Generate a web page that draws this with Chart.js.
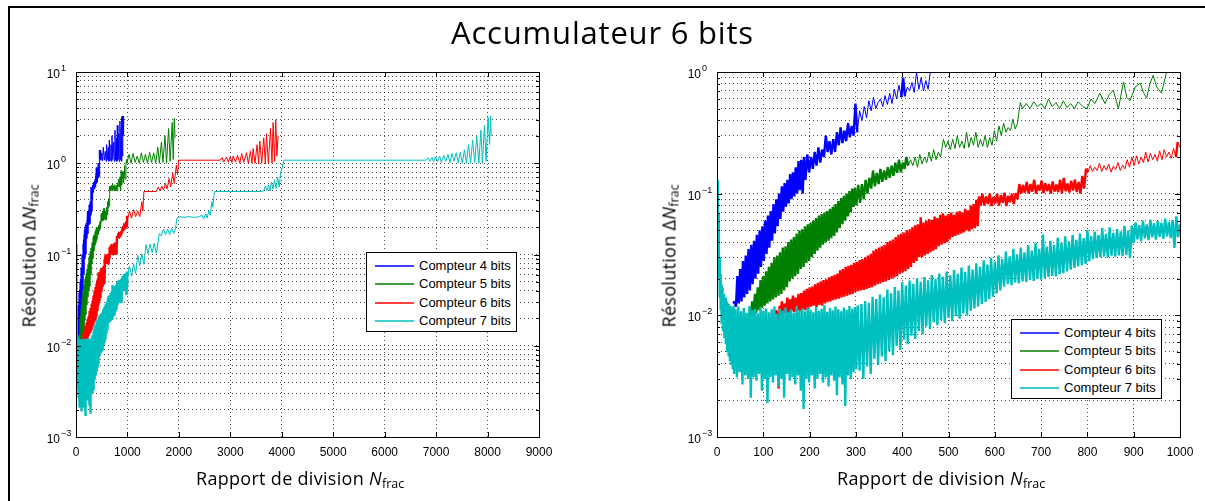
<!DOCTYPE html>
<html lang="fr">
<head>
<meta charset="utf-8">
<title>Accumulateur 6 bits</title>
<script src="https://cdn.jsdelivr.net/npm/chart.js@4.4.0/dist/chart.umd.min.js"></script>
<style>
  body { margin: 0; width: 1205px; height: 501px; background: #fff; position: relative; overflow: hidden; font-family: "Open Sans", "Noto Sans", sans-serif; color: #000; }
  #cadre { position: absolute; left: 8px; top: 6px; right: -4px; bottom: -4px; border-top: 2px solid #000; border-left: 2px solid #000; }
  canvas { position: absolute; top: 0; }
  #titre { position: absolute; left: 0; top: 16.5px; width: 1205px; text-align: center; font-size: 31px; line-height: 31px; letter-spacing: 0.8px; white-space: nowrap; }
  .xlabel, .ylabel { position: absolute; font-size: 18px; line-height: 18px; letter-spacing: 0.3px; white-space: nowrap; }
  .sub { font-size: 12.5px; vertical-align: -3px; letter-spacing: 0; }
  .legende { position: absolute; width: 149px; height: 78px; border: 1px solid #000; background: #fff; font-family: "Liberation Sans", Arial, sans-serif; font-size: 13px; }
  .legende .ligne { position: absolute; left: 8px; width: 39px; height: 2px; opacity: 0.75; }
  .legende .texte { position: absolute; left: 52px; line-height: 18px; white-space: nowrap; }
</style>
</head>
<body>
<div id="cadre"></div>
<canvas id="grapheGauche" width="600" height="501" style="left:0"></canvas>
<canvas id="grapheDroite" width="605" height="501" style="left:600px"></canvas>
<div id="titre">Accumulateur 6 bits</div>
<div class="xlabel" id="xlabelGauche">Rapport de division <i>N</i><span class="sub">frac</span></div>
<div class="xlabel" id="xlabelDroite">Rapport de division <i>N</i><span class="sub">frac</span></div>
<div class="ylabel" id="ylabelGauche">Résolution Δ<i>N</i><span class="sub">frac</span></div>
<div class="ylabel" id="ylabelDroite">Résolution Δ<i>N</i><span class="sub">frac</span></div>
<div class="legende" id="legendeGauche" style="left:366px; top:252px"></div>
<div class="legende" id="legendeDroite" style="left:1011px; top:319px"></div>
<script>
// Noms et couleurs des compteurs
const nomsCompteurs = ["Compteur 4 bits", "Compteur 5 bits", "Compteur 6 bits", "Compteur 7 bits"];
const couleurs = ["#0000ff", "#008000", "#ff0000", "#00bfbf"];

// Graduations
const xTicksGauche = [0, 1000, 2000, 3000, 4000, 5000, 6000, 7000, 8000, 9000];
const xTicksDroite = [0, 100, 200, 300, 400, 500, 600, 700, 800, 900, 1000];
const decadesGauche = [-3, -2, -1, 0, 1];
const decadesDroite = [-3, -2, -1, 0];

// Résolution [N_frac, delta N_frac]
const compteur4 = [
  [35,0.0125],[38,0.013],[41,0.0118],[44,0.021],[47,0.0125],[50,0.024],[53,0.013],[56,0.028],[59,0.014],[62,0.031],
  [65,0.015],[68,0.035],[71,0.016],[74,0.038],[77,0.018],[80,0.041],[83,0.02],[86,0.046],[89,0.022],[92,0.05],
  [95,0.025],[98,0.054],[101,0.028],[104,0.06],[107,0.032],[110,0.066],[113,0.036],[116,0.072],[119,0.041],[122,0.082],
  [125,0.047],[128,0.09],[131,0.054],[134,0.1],[137,0.062],[140,0.115],[143,0.071],[146,0.122],[149,0.078],[152,0.13],
  [155,0.083],[158,0.145],[161,0.09],[164,0.15],[167,0.095],[170,0.165],[173,0.1],[176,0.185],[179,0.107],[182,0.19],
  [185,0.1],[188,0.2],[191,0.13],[195,0.21],[199,0.15],[203,0.2],[207,0.16],[211,0.22],[215,0.17],[219,0.24],
  [223,0.18],[227,0.23],[231,0.2],[235,0.3],[239,0.22],[243,0.27],[247,0.21],[251,0.28],[255,0.22],[259,0.32],
  [263,0.25],[267,0.35],[271,0.26],[275,0.33],[279,0.27],[283,0.38],[287,0.29],[291,0.36],[295,0.3],[299,0.55],
  [303,0.32],[308,0.48],[313,0.4],[318,0.52],[323,0.42],[328,0.58],[333,0.48],[338,0.62],[343,0.5],[348,0.56],
  [353,0.6],[358,0.52],[363,0.64],[368,0.54],[373,0.67],[378,0.55],[383,0.72],[388,0.6],[393,0.78],[398,0.62],
  [402,0.9],[406,0.63],[411,0.75],[416,0.7],[421,0.82],[426,0.68],[431,1.0],[436,0.72],[441,0.9],[446,0.7],
  [451,0.85],[456,0.72],[462,1.1],[466,1.4],[485,1.08],[500,1.3],[515,1.06],[531,1.5],[550,1.08],[570,1.35],
  [585,1.05],[595,1.6],[615,1.1],[630,1.5],[640,1.05],[647,1.8],[665,1.08],[680,1.6],[690,1.05],[699,2.0],
  [715,1.1],[735,1.7],[745,1.05],[757,2.3],[770,1.08],[790,1.9],[795,1.05],[802,2.6],[815,1.1],[835,2.1],
  [840,1.05],[854,2.9],[865,1.1],[880,2.4],[885,1.05],[893,3.2],[900,1.2],[910,3.3],[913,2.0]
];

const compteur5 = [
  [70,0.0105],[73,0.01],[76,0.013],[79,0.0102],[82,0.015],[85,0.0105],[88,0.017],[91,0.011],[94,0.0195],[97,0.0115],
  [100,0.021],[103,0.012],[106,0.023],[109,0.0125],[112,0.025],[115,0.013],[118,0.027],[121,0.0135],[124,0.03],[127,0.014],
  [130,0.031],[133,0.0145],[136,0.033],[139,0.015],[142,0.036],[145,0.016],[148,0.037],[151,0.017],[154,0.04],[157,0.019],
  [160,0.042],[163,0.02],[166,0.044],[169,0.021],[172,0.047],[175,0.022],[178,0.05],[181,0.024],[184,0.051],[187,0.025],
  [190,0.054],[193,0.027],[196,0.056],[199,0.028],[202,0.058],[205,0.03],[208,0.06],[211,0.032],[214,0.063],[217,0.034],
  [220,0.066],[223,0.036],[226,0.068],[229,0.038],[232,0.07],[235,0.04],[238,0.072],[241,0.041],[244,0.075],[247,0.043],
  [250,0.078],[253,0.045],[256,0.082],[259,0.048],[262,0.087],[265,0.052],[268,0.092],[271,0.056],[274,0.096],[277,0.06],
  [280,0.1],[283,0.065],[286,0.105],[289,0.07],[292,0.11],[295,0.078],[298,0.112],[301,0.08],[305,0.118],[309,0.084],
  [313,0.12],[317,0.09],[321,0.13],[325,0.1],[329,0.135],[333,0.11],[337,0.155],[341,0.115],[345,0.148],[349,0.12],
  [353,0.16],[357,0.125],[361,0.155],[365,0.13],[369,0.165],[373,0.135],[377,0.17],[381,0.14],[385,0.18],[389,0.148],
  [393,0.19],[397,0.15],[401,0.18],[405,0.16],[409,0.2],[413,0.17],[418,0.19],[423,0.17],[428,0.2],[433,0.165],
  [438,0.21],[443,0.175],[448,0.2],[453,0.18],[458,0.22],[463,0.185],[468,0.23],[473,0.19],[478,0.22],[483,0.2],
  [489,0.28],[494,0.24],[499,0.27],[504,0.23],[509,0.28],[514,0.235],[519,0.3],[524,0.24],[529,0.27],[534,0.235],
  [539,0.32],[544,0.24],[549,0.29],[554,0.25],[559,0.32],[564,0.24],[569,0.28],[574,0.245],[579,0.3],[584,0.24],
  [589,0.29],[594,0.25],[599,0.33],[604,0.27],[609,0.36],[614,0.3],[619,0.38],[624,0.32],[629,0.35],[634,0.33],
  [639,0.41],[644,0.34],[649,0.38],[655,0.56],[660,0.5],[668,0.55],[676,0.5],[684,0.57],[692,0.52],[700,0.55],
  [708,0.5],[716,0.6],[724,0.52],[732,0.56],[740,0.5],[748,0.58],[756,0.51],[764,0.55],[772,0.5],[780,0.57],
  [790,0.52],[799,0.5],[808,0.6],[816,0.55],[827,0.67],[838,0.55],[847,0.65],[856,0.71],[867,0.5],[878,0.83],
  [885,0.62],[892,0.58],[903,0.75],[914,0.81],[921,0.68],[928,0.61],[935,0.8],[942,0.94],[950,0.75],[960,0.67],
  [971,1.0],[985,1.1],[990,1.0],[1030,1.25],[1070,1.0],[1110,1.28],[1150,1.02],[1190,1.2],[1230,1.0],[1270,1.3],
  [1310,1.02],[1350,1.25],[1390,1.0],[1430,1.32],[1470,1.02],[1510,1.3],[1550,1.0],[1590,1.5],[1620,1.0],[1660,1.7],
  [1690,1.02],[1730,2.0],[1760,1.0],[1800,2.4],[1830,1.05],[1870,2.8],[1890,1.1],[1910,3.1],[1925,1.9]
];

const compteur6 = [
  [125,0.0102],[128,0.011],[131,0.01],[133,0.0025],[135,0.012],[137,0.0101],[140,0.013],[143,0.0103],[146,0.0125],[149,0.0105],
  [152,0.014],[155,0.0104],[158,0.0135],[161,0.0108],[164,0.0145],[167,0.0106],[170,0.014],[173,0.011],[176,0.015],[179,0.0108],
  [182,0.0152],[185,0.0112],[188,0.016],[191,0.011],[194,0.0165],[197,0.0115],[200,0.017],[203,0.0118],[206,0.0172],[209,0.012],
  [212,0.018],[215,0.0117],[218,0.0185],[221,0.0122],[224,0.019],[227,0.012],[230,0.0195],[233,0.0125],[236,0.0198],[239,0.0128],
  [242,0.0205],[245,0.013],[248,0.021],[251,0.0133],[254,0.0215],[257,0.0135],[260,0.022],[263,0.0137],[266,0.0235],[269,0.014],
  [272,0.024],[275,0.0142],[278,0.025],[281,0.0145],[284,0.0255],[287,0.0148],[290,0.026],[293,0.015],[296,0.027],[299,0.0155],
  [302,0.0275],[305,0.0158],[308,0.0285],[311,0.016],[314,0.029],[317,0.0162],[320,0.03],[323,0.0165],[326,0.031],[329,0.0168],
  [332,0.032],[335,0.017],[338,0.034],[341,0.0175],[344,0.035],[347,0.018],[350,0.036],[353,0.0183],[356,0.037],[359,0.0188],
  [362,0.038],[365,0.019],[368,0.04],[371,0.0195],[374,0.041],[377,0.02],[380,0.042],[383,0.0205],[386,0.044],[389,0.021],
  [392,0.046],[395,0.022],[398,0.047],[401,0.0225],[404,0.048],[407,0.023],[410,0.05],[413,0.024],[416,0.051],[419,0.025],
  [422,0.053],[425,0.027],[428,0.055],[431,0.028],[434,0.056],[437,0.03],[440,0.064],[443,0.03],[446,0.058],[449,0.031],
  [452,0.06],[455,0.032],[458,0.062],[461,0.033],[464,0.061],[467,0.034],[470,0.065],[473,0.035],[476,0.063],[479,0.037],
  [482,0.067],[485,0.038],[488,0.069],[491,0.039],[494,0.066],[497,0.04],[500,0.068],[503,0.042],[506,0.07],[509,0.044],
  [512,0.067],[515,0.045],[518,0.071],[521,0.046],[524,0.072],[527,0.047],[530,0.07],[533,0.048],[536,0.075],[539,0.05],
  [542,0.073],[545,0.049],[548,0.08],[551,0.051],[554,0.082],[557,0.052],[560,0.089],[563,0.054],[566,0.095],[569,0.08],
  [573,0.1],[577,0.08],[581,0.095],[585,0.082],[589,0.1],[593,0.079],[597,0.094],[601,0.083],[605,0.1],[609,0.08],
  [613,0.097],[617,0.084],[621,0.102],[625,0.079],[629,0.096],[633,0.085],[637,0.1],[641,0.082],[645,0.101],[649,0.09],
  [653,0.12],[657,0.1],[661,0.118],[665,0.102],[669,0.125],[673,0.1],[677,0.12],[681,0.104],[685,0.13],[689,0.1],
  [693,0.118],[697,0.106],[701,0.128],[705,0.101],[709,0.122],[713,0.105],[717,0.12],[721,0.1],[725,0.126],[729,0.104],
  [733,0.119],[737,0.103],[741,0.13],[745,0.1],[749,0.135],[753,0.105],[757,0.121],[761,0.102],[765,0.128],[769,0.106],
  [773,0.13],[777,0.103],[781,0.125],[785,0.1],[789,0.14],[793,0.11],[797,0.16],[801,0.15],[806,0.17],[811,0.152],
  [816,0.165],[821,0.155],[826,0.178],[831,0.152],[836,0.17],[841,0.156],[846,0.175],[851,0.15],[856,0.168],[861,0.158],
  [866,0.18],[871,0.155],[876,0.172],[881,0.16],[886,0.19],[891,0.165],[896,0.2],[901,0.17],[906,0.205],[911,0.175],
  [916,0.2],[921,0.18],[926,0.22],[931,0.182],[936,0.215],[941,0.19],[946,0.21],[951,0.185],[956,0.225],[961,0.19],
  [966,0.23],[971,0.2],[976,0.22],[981,0.195],[986,0.235],[991,0.2],[995,0.265],[1000,0.24],[1040,0.3],[1080,0.25],
  [1120,0.31],[1160,0.26],[1200,0.3],[1240,0.26],[1280,0.38],[1300,0.3],[1320,0.49],[1560,0.49],[1600,0.55],[1630,0.5],
  [1670,0.56],[1700,0.51],[1740,0.6],[1770,0.52],[1810,0.68],[1840,0.55],[1880,0.78],[1910,0.6],[1950,0.95],[1975,0.75],
  [1995,1.08],[2800,1.08],[2840,1.15],[2870,1.03],[2926,1.17],[2960,1.03],[3000,1.18],[3030,1.02],[3055,1.2],[3100,1.03],
  [3140,1.22],[3184,1.0],[3220,1.28],[3260,1.02],[3314,1.3],[3350,1.0],[3390,1.35],[3420,1.0],[3443,1.45],[3480,1.0],
  [3520,1.6],[3550,0.98],[3573,1.75],[3610,1.0],[3650,1.9],[3680,0.98],[3703,2.1],[3740,1.0],[3780,2.4],[3810,1.0],
  [3832,2.8],[3860,1.05],[3883,3.0],[3905,1.2],[3928,2.0]
];

const compteur7 = [
  [1,0.13],[2,0.045],[3,0.07],[4,0.02],[5,0.03],[6,0.014],[7,0.022],[8,0.011],[9,0.018],[10,0.0085],
  [12,0.017],[13,0.0075],[15,0.015],[16,0.0065],[18,0.014],[19,0.0058],[21,0.013],[22,0.005],[24,0.0125],[25,0.0046],
  [27,0.012],[28,0.0042],[30,0.0118],[31,0.0039],[33,0.0115],[34,0.0036],[36,0.012],[37,0.0033],[40,0.0112],[43,0.0031],
  [46,0.0118],[49,0.0034],[52,0.0108],[55,0.0027],[58,0.0115],[61,0.0032],[64,0.0105],[67,0.003],[70,0.0119],[73,0.0021],
  [76,0.011],[79,0.0031],[82,0.0113],[85,0.0029],[88,0.0104],[91,0.0033],[94,0.0117],[97,0.0024],[100,0.0109],[103,0.003],
  [106,0.0114],[109,0.0019],[112,0.0106],[115,0.0031],[118,0.0112],[121,0.0028],[124,0.0118],[127,0.0032],[130,0.0103],[133,0.0026],
  [136,0.0113],[139,0.003],[142,0.0109],[145,0.0021],[148,0.0116],[151,0.0033],[154,0.0107],[157,0.0029],[160,0.0112],[163,0.0031],
  [166,0.0105],[169,0.0027],[172,0.0119],[175,0.0032],[178,0.011],[181,0.0024],[184,0.0114],[187,0.0017],[190,0.0108],[193,0.003],
  [196,0.0116],[199,0.0028],[202,0.0111],[205,0.0032],[208,0.0106],[211,0.0025],[214,0.0117],[217,0.003],[220,0.0109],[223,0.0033],
  [226,0.0113],[229,0.0028],[232,0.0121],[235,0.0031],[238,0.0107],[241,0.0026],[244,0.0115],[247,0.0032],[250,0.011],[253,0.0029],
  [256,0.0118],[259,0.0022],[262,0.0112],[265,0.0031],[268,0.0108],[271,0.0027],[274,0.0116],[277,0.0018],[280,0.0111],[283,0.0032],
  [286,0.0119],[289,0.003],[292,0.0113],[295,0.0034],[298,0.0117],[301,0.0036],[304,0.0121],[308,0.0035],[312,0.0124],[316,0.003],
  [320,0.0131],[324,0.0038],[328,0.0127],[332,0.0033],[336,0.0142],[340,0.0044],[344,0.0136],[348,0.0039],[352,0.0148],[356,0.0046],
  [360,0.0141],[364,0.0042],[368,0.0163],[372,0.0051],[376,0.0152],[380,0.0047],[384,0.0171],[388,0.0056],[392,0.016],[396,0.0052],
  [400,0.0188],[404,0.0063],[408,0.0176],[412,0.0058],[416,0.0193],[420,0.0068],[424,0.0182],[428,0.0064],[432,0.0201],[436,0.0074],
  [440,0.0189],[444,0.007],[448,0.0206],[452,0.0081],[456,0.0194],[460,0.0077],[464,0.0214],[468,0.0088],[472,0.0199],[476,0.0083],
  [480,0.0221],[484,0.0091],[488,0.0207],[492,0.0086],[496,0.0229],[500,0.0095],[504,0.0213],[508,0.009],[512,0.0236],[516,0.0099],
  [520,0.0219],[524,0.0094],[528,0.0247],[532,0.0104],[536,0.0228],[540,0.01],[544,0.0256],[548,0.0109],[552,0.0238],[556,0.0114],
  [560,0.0268],[564,0.0118],[568,0.0251],[572,0.0124],[576,0.0283],[580,0.0129],[584,0.0262],[588,0.0136],[592,0.0297],[596,0.0142],
  [600,0.0276],[604,0.0151],[608,0.0312],[612,0.016],[616,0.029],[620,0.0172],[624,0.0334],[628,0.0181],[632,0.0305],[636,0.0177],
  [640,0.0352],[644,0.0186],[648,0.0318],[652,0.0183],[656,0.0361],[660,0.019],[664,0.033],[668,0.0187],[672,0.0378],[676,0.0195],
  [680,0.0341],[684,0.0192],[688,0.0395],[692,0.0199],[696,0.0352],[700,0.0196],[704,0.0462],[708,0.0203],[712,0.0368],[716,0.0207],
  [720,0.041],[724,0.0211],[728,0.0379],[732,0.0209],[736,0.0433],[740,0.0218],[744,0.0392],[748,0.0222],[752,0.0446],[756,0.023],
  [760,0.0405],[764,0.0237],[768,0.0458],[772,0.0245],[776,0.0418],[780,0.0252],[784,0.0471],[788,0.0258],[792,0.0432],[796,0.0263],
  [800,0.0502],[804,0.0279],[808,0.0447],[812,0.029],[816,0.0489],[820,0.0296],[824,0.0456],[828,0.0301],[832,0.0521],[836,0.0305],
  [840,0.0468],[844,0.0298],[848,0.053],[852,0.0309],[856,0.0477],[860,0.0303],[864,0.0512],[868,0.0311],[872,0.0489],[876,0.0306],
  [880,0.0545],[884,0.0313],[888,0.0498],[892,0.0296],[896,0.0548],[900,0.0392],[904,0.0582],[908,0.0421],[912,0.0551],[916,0.0408],
  [920,0.0601],[924,0.043],[928,0.056],[932,0.0415],[936,0.0612],[940,0.0437],[944,0.0571],[948,0.0419],[952,0.0596],[956,0.0441],
  [960,0.0578],[964,0.0426],[968,0.0623],[972,0.0446],[976,0.0585],[980,0.0432],[984,0.0608],[988,0.0359],[992,0.065],[996,0.044],
  [1000,0.056],[1040,0.075],[1080,0.058],[1120,0.079],[1160,0.062],[1200,0.098],[1240,0.075],[1280,0.102],[1320,0.078],[1360,0.128],
  [1400,0.102],[1440,0.13],[1480,0.105],[1520,0.133],[1560,0.103],[1600,0.14],[1620,0.17],[1660,0.16],[1700,0.19],[1740,0.165],
  [1780,0.19],[1820,0.165],[1860,0.195],[1900,0.17],[1940,0.2],[1960,0.25],[2000,0.26],[2100,0.255],[2200,0.26],[2300,0.255],
  [2400,0.26],[2450,0.27],[2480,0.245],[2520,0.28],[2550,0.25],[2580,0.3],[2610,0.27],[2640,0.38],[2660,0.33],[2690,0.49],
  [3600,0.49],[3650,0.5],[3680,0.56],[3710,0.5],[3740,0.58],[3770,0.5],[3800,0.62],[3830,0.52],[3860,0.66],[3890,0.53],
  [3920,0.7],[3950,0.55],[3980,0.8],[4010,0.9],[4040,1.08],[6800,1.08],[6850,1.15],[6880,1.05],[6920,1.16],[6950,1.04],
  [6990,1.18],[7030,1.05],[7070,1.2],[7100,1.02],[7150,1.22],[7190,1.05],[7230,1.25],[7270,1.02],[7310,1.28],[7350,1.05],
  [7390,1.3],[7430,1.02],[7470,1.32],[7510,1.0],[7550,1.4],[7590,1.0],[7630,1.6],[7670,1.0],[7710,1.8],[7750,1.02],
  [7790,2.0],[7830,1.0],[7870,2.3],[7900,1.0],[7940,2.6],[7970,1.05],[8010,3.2],[8040,1.6],[8060,3.3],[8070,2.0]
];

const series = [compteur4, compteur5, compteur6, compteur7];

/*
Graduations du log : 1..9 x 10^d pour chaque décade.
 */
function ticksLog(decades) {
    const ticks = [];
    decades.forEach(function (d, i) {
        const nb = i === decades.length - 1 ? 1 : 9;
        for (let m = 1; m <= nb; m++) {
            ticks.push({value: Number((m * Math.pow(10, d)).toPrecision(3)), major: m === 1});
        }
    });
    return ticks;
}

// Cadre, petites graduations et étiquettes 10^n façon Matlab
const cadreMatlab = {
    id: 'cadreMatlab',
    afterDraw(chart, args, opts) {
        const ctx = chart.ctx;
        const a = chart.chartArea;
        const sx = chart.scales.x;
        const sy = chart.scales.y;
        ctx.save();
        ctx.strokeStyle = "#000";
        ctx.lineWidth = 1;
        ctx.beginPath();
        sx.ticks.forEach(function (t) {
            const x = Math.round(sx.getPixelForValue(t.value)) + 0.5;
            ctx.moveTo(x, a.bottom); ctx.lineTo(x, a.bottom - 5);
            ctx.moveTo(x, a.top); ctx.lineTo(x, a.top + 5);
        });
        sy.ticks.forEach(function (t) {
            const y = Math.round(sy.getPixelForValue(t.value)) + 0.5;
            const l = t.major ? 5 : 3;
            ctx.moveTo(a.left, y); ctx.lineTo(a.left + l, y);
            ctx.moveTo(a.right, y); ctx.lineTo(a.right - l, y);
        });
        ctx.stroke();
        ctx.strokeRect(Math.round(a.left) + 0.5, Math.round(a.top) + 0.5, Math.round(a.right - a.left), Math.round(a.bottom - a.top));
        ctx.fillStyle = "#000";
        opts.decades.forEach(function (d) {
            const y = sy.getPixelForValue(Math.pow(10, d));
            ctx.font = '12px "Liberation Sans", Arial, sans-serif';
            ctx.textAlign = "right";
            ctx.textBaseline = "alphabetic";
            ctx.fillText("10", a.left - 16, y + 6);
            ctx.font = '9px "Liberation Sans", Arial, sans-serif';
            ctx.textAlign = "left";
            ctx.fillText(d < 0 ? "\u2212" + (-d) : String(d), a.left - 15, y - 1);
        });
        ctx.restore();
    }
};

/*
Construit un graphe (gauche ou droite).
 */
function creerGraphe(id, xTicks, decades, padding, largeurY) {
    const yTicks = ticksLog(decades);
    const datasets = series.map(function (s, i) {
        return {
            label: nomsCompteurs[i],
            data: s.map(function (p) { return {x: p[0], y: p[1]}; }),
            borderColor: couleurs[i],
            borderWidth: 1,
            borderJoinStyle: 'bevel',
            pointRadius: 0,
            fill: false,
            tension: 0,
            order: 3 - i,
            // les zones très bruitées (points serrés) forment une bande pleine
            segment: {
                borderWidth: function (c) { return c.p1.parsed.x - c.p0.parsed.x <= 4 ? 2.4 : 1; }
            }
        };
    });
    return new Chart(document.getElementById(id), {
        type: 'line',
        data: {datasets: datasets},
        plugins: [cadreMatlab],
        options: {
            responsive: false,
            animation: false,
            devicePixelRatio: 1,
            layout: {padding: padding},
            plugins: {
                legend: {display: false},
                tooltip: {enabled: false},
                cadreMatlab: {decades: decades}
            },
            scales: {
                x: {
                    type: 'linear',
                    min: xTicks[0],
                    max: xTicks[xTicks.length - 1],
                    afterBuildTicks: function (scale) {
                        scale.ticks = xTicks.map(function (v) { return {value: v}; });
                    },
                    afterFit: function (scale) { scale.height = 64; },
                    grid: {color: "rgba(0,0,0,0.7)", lineWidth: 1, drawTicks: false},
                    border: {display: false, dash: [1, 3]},
                    ticks: {
                        autoSkip: false,
                        maxRotation: 0,
                        padding: 8,
                        color: "#000",
                        font: {family: '"Liberation Sans", Arial, sans-serif', size: 12},
                        callback: function (v) { return String(v); }
                    }
                },
                y: {
                    type: 'logarithmic',
                    min: Math.pow(10, decades[0]),
                    max: Math.pow(10, decades[decades.length - 1]),
                    afterBuildTicks: function (scale) { scale.ticks = yTicks.slice(); },
                    afterFit: function (scale) { scale.width = largeurY; },
                    grid: {color: "rgba(0,0,0,0.7)", lineWidth: 1, drawTicks: false},
                    border: {display: false, dash: [1, 3]},
                    ticks: {display: false, autoSkip: false}
                }
            }
        }
    });
}

creerGraphe("grapheGauche", xTicksGauche, decadesGauche, {top: 72, right: 61, bottom: 0, left: 0}, 76);
creerGraphe("grapheDroite", xTicksDroite, decadesDroite, {top: 72, right: 25, bottom: 0, left: 0}, 117);

// Légendes
["legendeGauche", "legendeDroite"].forEach(function (id) {
    const boite = document.getElementById(id);
    nomsCompteurs.forEach(function (nom, i) {
        const centre = Math.round(12.5 + i * 18.6);
        const ligne = document.createElement("div");
        ligne.className = "ligne";
        ligne.style.top = (centre - 1) + "px";
        ligne.style.background = couleurs[i];
        const texte = document.createElement("div");
        texte.className = "texte";
        texte.style.top = (centre - 9) + "px";
        texte.textContent = nom;
        boite.appendChild(ligne);
        boite.appendChild(texte);
    });
});

// Titres des axes
function placer(id, cx, top) {
    const el = document.getElementById(id);
    el.style.left = (cx - el.offsetWidth / 2) + "px";
    el.style.top = top + "px";
}
placer("xlabelGauche", 300, 469);
placer("xlabelDroite", 941, 469);
function placerY(id, cx, cy) {
    const el = document.getElementById(id);
    el.style.left = (cx - el.offsetWidth / 2) + "px";
    el.style.top = (cy - el.offsetHeight / 2) + "px";
    el.style.transform = "rotate(-90deg)";
}
placerY("ylabelGauche", 31, 256);
placerY("ylabelDroite", 671, 256);
</script>
</body>
</html>
